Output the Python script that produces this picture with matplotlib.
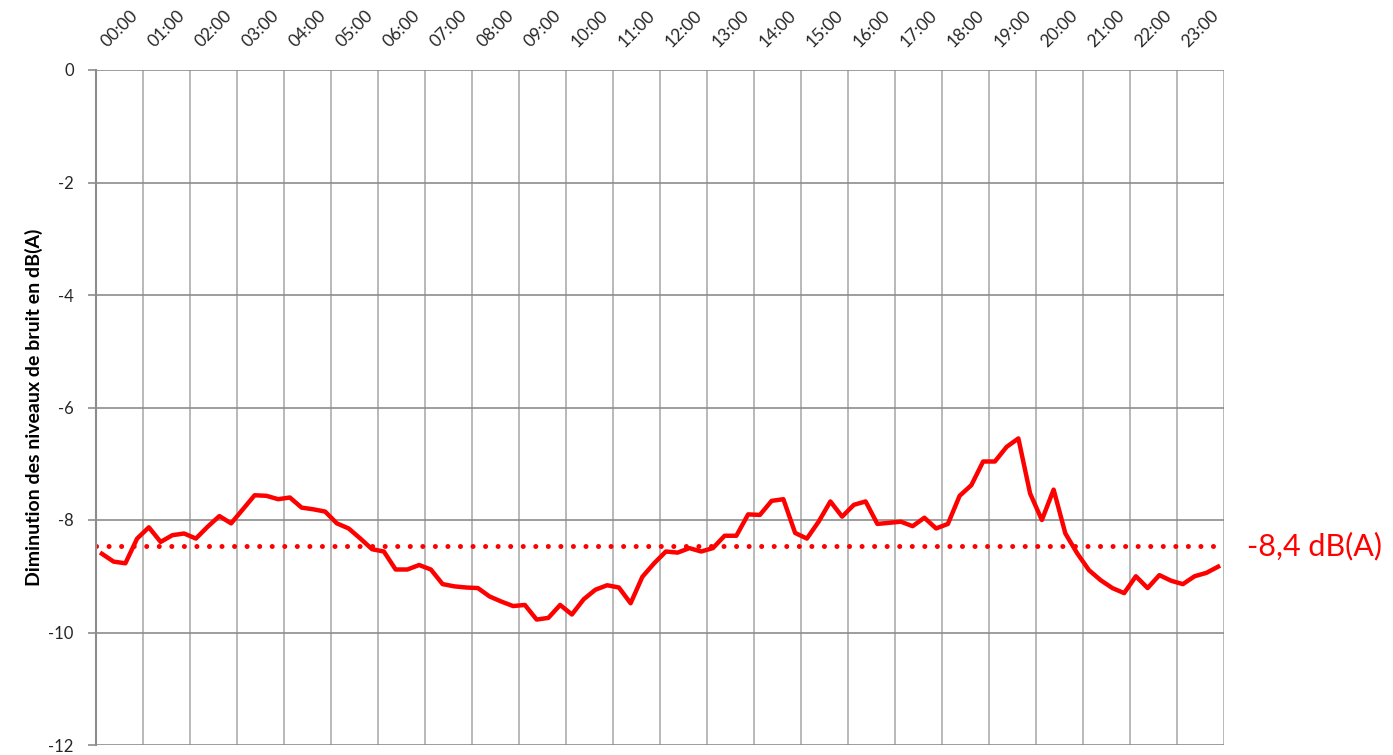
import matplotlib
matplotlib.use("Agg")
import matplotlib.pyplot as plt
import numpy as np

plt.rcParams['font.family'] = ['Lato', 'DejaVu Sans']
plt.rcParams['axes.unicode_minus'] = False

hour_labels = ["%02d:00" % h for h in range(24)]
# Quarter-hour values (96 points), dB(A)
noise_diff = [
    -8.60, -8.74, -8.77, -8.33, -8.13, -8.39, -8.27, -8.24,
    -8.33, -8.12, -7.93, -8.06, -7.81, -7.56, -7.57, -7.63,
    -7.60, -7.78, -7.81, -7.85, -8.06, -8.15, -8.33, -8.52,
    -8.56, -8.88, -8.88, -8.80, -8.88, -9.14, -9.18, -9.20,
    -9.21, -9.36, -9.45, -9.53, -9.51, -9.77, -9.74, -9.51,
    -9.68, -9.41, -9.24, -9.16, -9.20, -9.48, -9.01, -8.77,
    -8.56, -8.58, -8.50, -8.56, -8.50, -8.28, -8.28, -7.90,
    -7.91, -7.66, -7.63, -8.23, -8.33, -8.03, -7.67, -7.94,
    -7.73, -7.67, -8.07, -8.05, -8.03, -8.11, -7.96, -8.15,
    -8.07, -7.57, -7.38, -6.96, -6.96, -6.70, -6.55, -7.53,
    -8.00, -7.46, -8.24, -8.59, -8.89, -9.07, -9.21, -9.30,
    -9.00, -9.21, -8.98, -9.08, -9.14, -9.00, -8.94, -8.83,
]
mean_value = -8.47
mean_label = "-8,4 dB(A)"
y_ticks = [0, -2, -4, -6, -8, -10, -12]
y_tick_labels = ["0", "-2", "-4", "-6", "-8", "-10", "-12"]
y_title = "Diminution des niveaux de bruit en dB(A)"

W, H = 1393, 755
fig = plt.figure(figsize=(W / 100, H / 100), dpi=100)
ax = fig.add_axes([96 / W, (H - 745) / H, 1128 / W, 675 / H])

n = len(noise_diff)
x = (np.arange(n) + 0.5) / 4.0
ax.set_xlim(0, 24)
ax.set_ylim(-12, 0)

# grid
for h in range(25):
    ax.axvline(h, color='#a6a6a6', lw=1.1, zorder=1)
for yv in y_ticks:
    ax.axhline(yv, color='#8c8c8c', lw=1.2, zorder=1)

ax.plot(x, noise_diff, color='#ff0000', lw=3.2, solid_joinstyle='round', zorder=3)
ax.axhline(mean_value, color='#ff0000', lw=3.6, linestyle=(0, (0.01, 2.5)),
           dash_capstyle='round', zorder=2)

for s in ax.spines.values():
    s.set_visible(False)
ax.spines['left'].set_visible(True)
ax.spines['left'].set_color('#8c8c8c')
ax.spines['left'].set_linewidth(1.5)

ax.set_yticks(y_ticks)
ax.set_yticklabels(y_tick_labels)
ax.tick_params(axis='y', length=6, width=1.2, color='#8c8c8c', pad=10,
               labelsize=12, labelcolor='#262626')

ax.xaxis.tick_top()
ax.set_xticks(np.arange(24) + 0.5)
ax.set_xticklabels(hour_labels, rotation=45, ha='center', va='bottom')
ax.tick_params(axis='x', length=0, pad=14, labelsize=12.5, labelcolor='#262626')

ax.set_ylabel(y_title, fontsize=14, fontweight='bold', color='black', labelpad=4)

ax.text(1.02, mean_value, mean_label, transform=ax.get_yaxis_transform(),
        color='#ff0000', fontsize=22, va='center', ha='left', clip_on=False)

fig.savefig("out.png", dpi=100)
